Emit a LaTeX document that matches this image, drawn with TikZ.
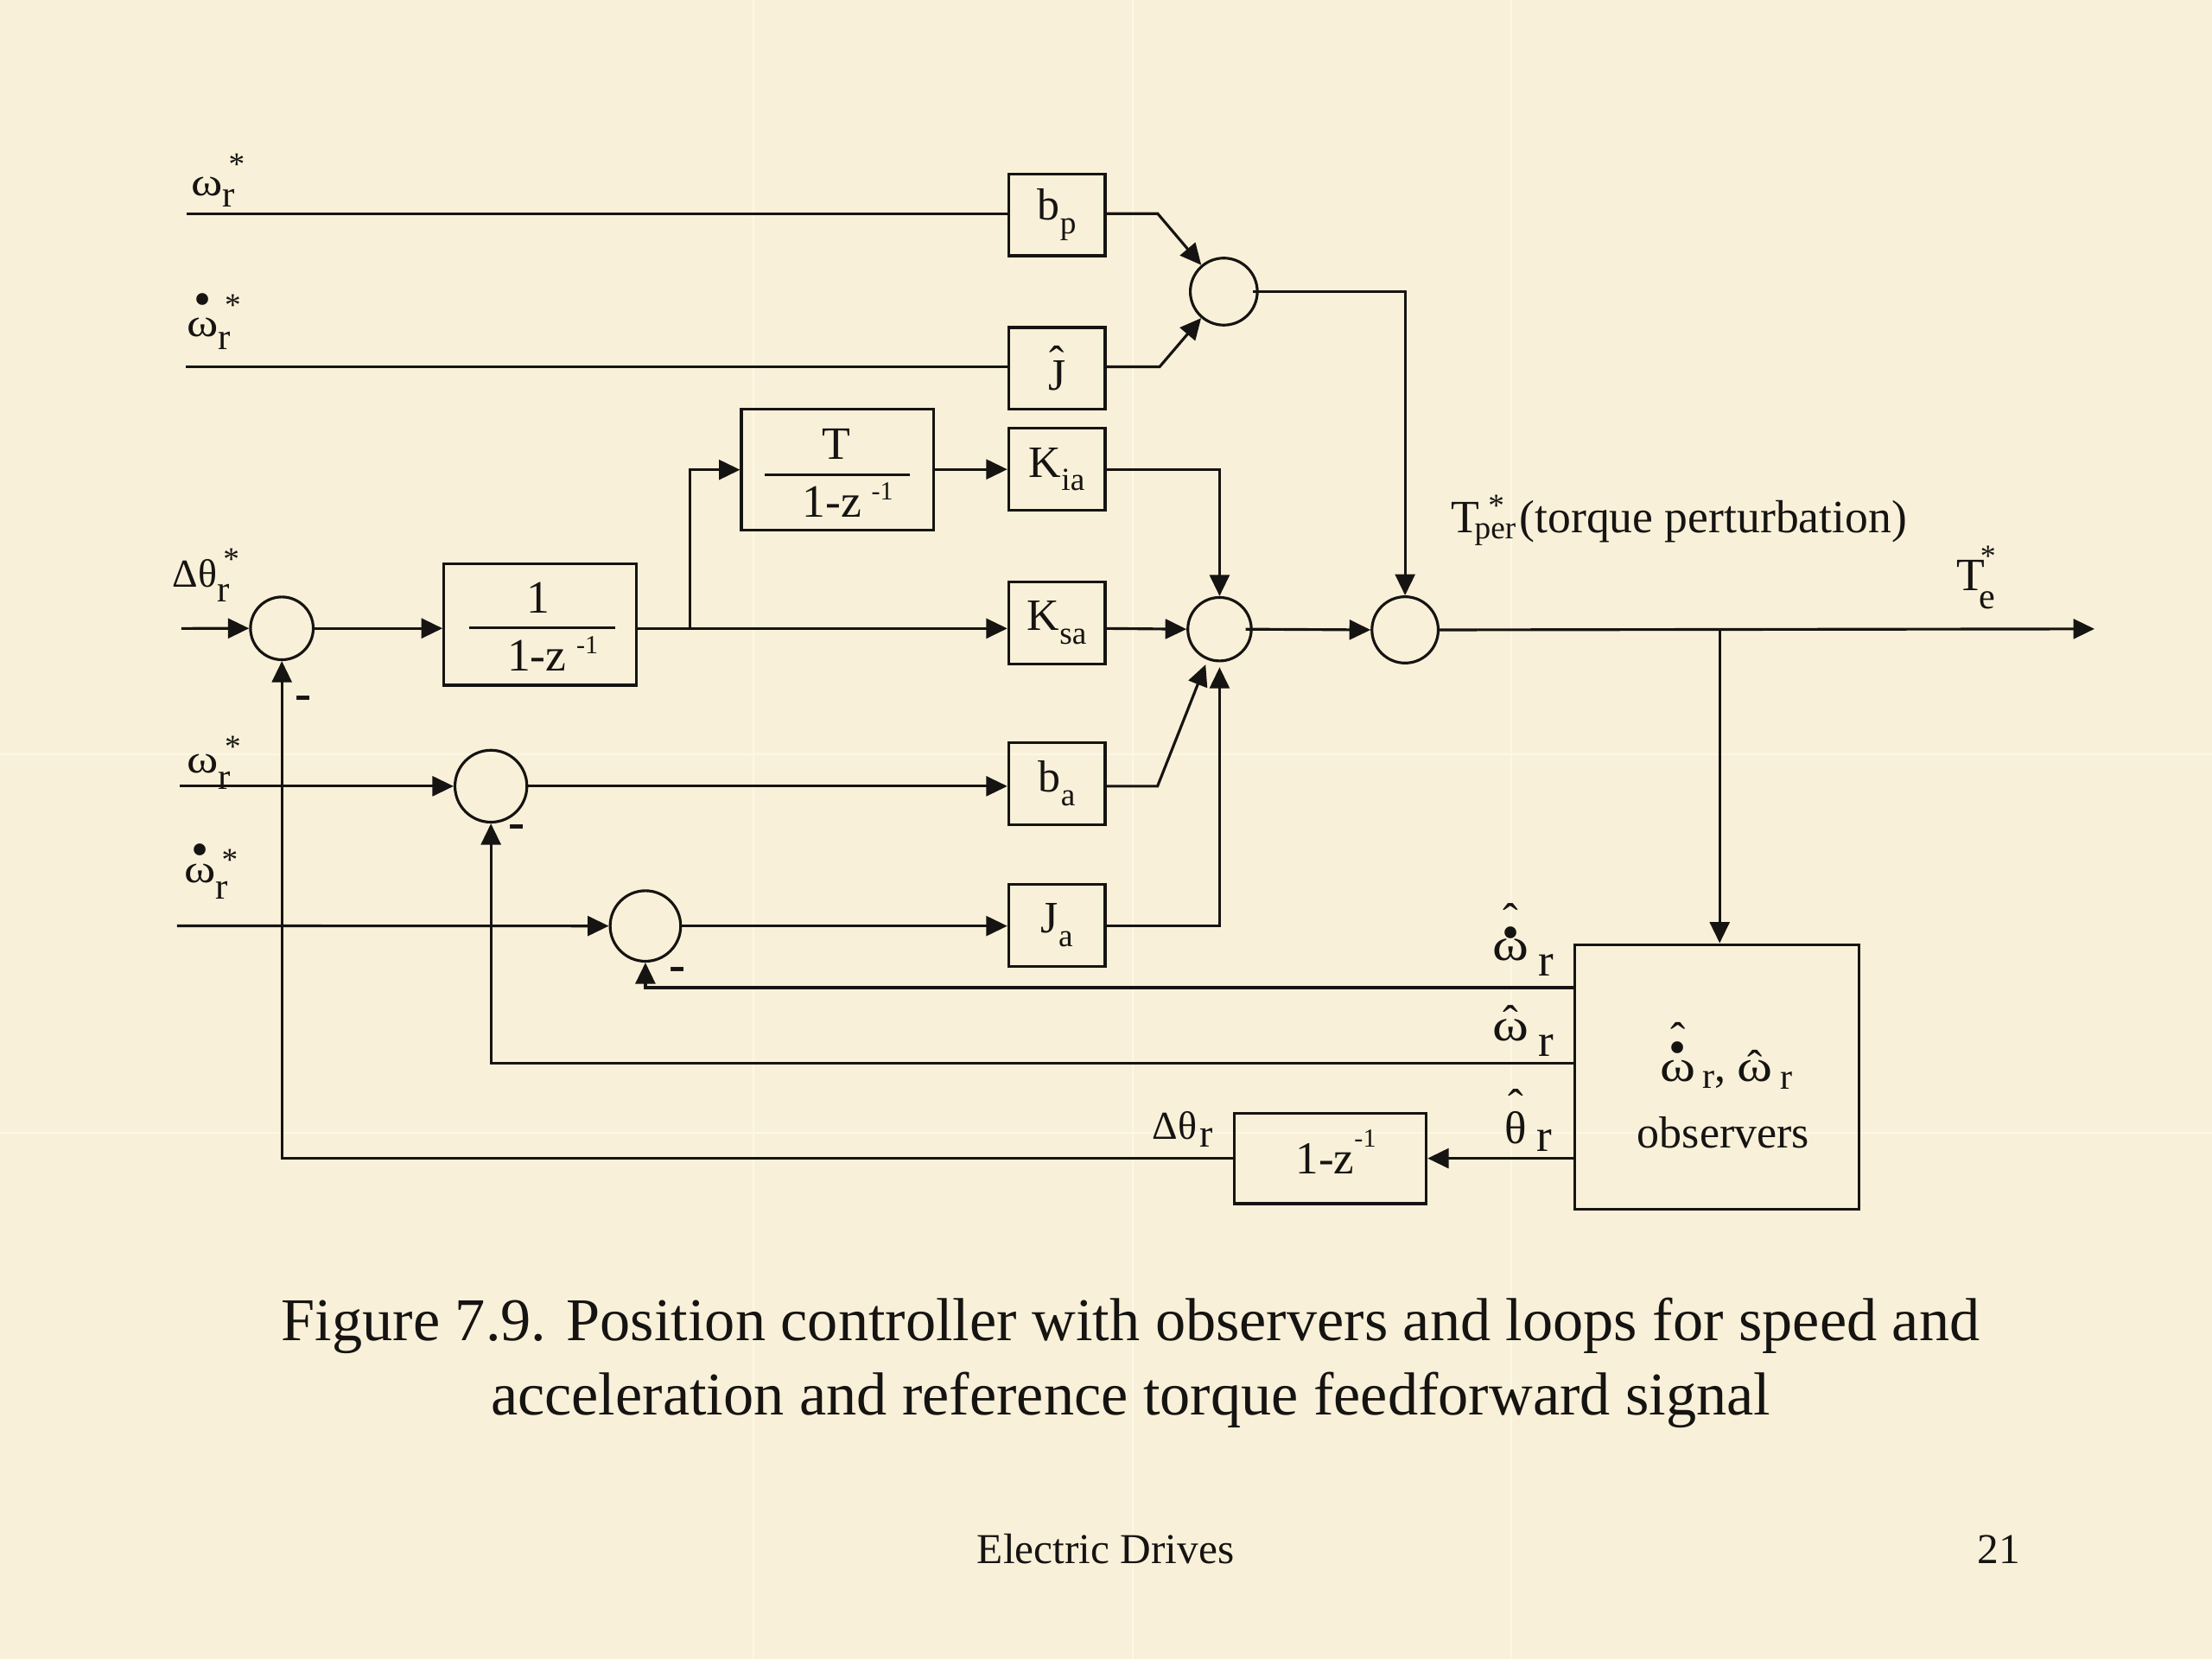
\documentclass[tikz,border=0pt]{standalone}
\usepackage{fontspec}
\usepackage{graphicx}
\setmainfont{Liberation Serif}
\usetikzlibrary{arrows.meta,calc}
\definecolor{paper}{RGB}{248,240,216}
\definecolor{seamc}{RGB}{252,247,230}
\definecolor{ink}{RGB}{22,20,18}
\newsavebox\mkbox
\newcommand\markabove[3]{\sbox\mkbox{#3}\leavevmode\rlap{\hbox to\wd\mkbox{\hss\raisebox{#2}{#1}\hss}}\usebox\mkbox}
\newcommand\bul{{\fontsize{20}{20}\selectfont •}}
\newcommand\om{\scalebox{1.2}[1]{ω}}
\newcommand\fL{\fontsize{16}{18}\selectfont}
\newcommand\fB{\fontsize{18.1}{20}\selectfont}
\newcommand\fR{\fontsize{18.5}{20}\selectfont}
\newcommand\fT{\fontsize{18.7}{21}\selectfont}
\newcommand\fF{\fontsize{18.7}{21}\selectfont}
\newcommand\fZ{\fontsize{18.5}{21}\selectfont}
% left labels: sub r and sup * stacked
\newcommand\Lss[4]{\rlap{\kern2.5pt\raisebox{#3}{\fontsize{13}{13}\selectfont #2}}\raisebox{-#4}{\fontsize{15}{15}\selectfont #1}}
\newcommand\Bsub[1]{\raisebox{-5.5pt}{\fontsize{13}{13}\selectfont #1}}
\begin{document}
\begin{tikzpicture}[x=0.02cm,y=-0.02cm, line width=1.1pt, color=ink,
  arr/.style={-{Triangle[length=0.3cm,width=0.28cm]}},
  gbox/.style={draw, minimum width=1.368cm, minimum height=1.16cm, inner sep=0pt, font=\fB},
  fbox/.style={draw, minimum width=2.73cm, minimum height=1.72cm, inner sep=0pt},
  sumc/.style={draw, circle, inner sep=0pt},
  lab/.style={inner sep=0pt, anchor=base west},
  ctr/.style={inner sep=0pt, anchor=base},
  minus/.style={inner sep=0pt, anchor=base, font=\fontsize{20}{20}\selectfont\bfseries},
  seam/.style={draw=seamc, line width=0.7pt}]
% background
\fill[paper] (0,0) rectangle (1568,1176);
\useasboundingbox (0,0) rectangle (1568,1176);
\foreach \sx in {534,803,1071} \draw[seam] (\sx,0) -- (\sx,1176);
\foreach \sy in {535,803} \draw[seam] (0,\sy) -- (1568,\sy);

% gain boxes
\node[gbox] (bp)  at (749.2,152.3) {b\Bsub{p}};
\node[gbox] (jh)  at (749.2,261.1) {\markabove{ˆ}{5.4pt}{J}};
\node[gbox] (kia) at (749.2,332.7) {K\Bsub{ia}};
\node[gbox] (ksa) at (749.2,441.6) {K\Bsub{sa}};
\node[gbox] (ba)  at (749.2,555.4) {b\Bsub{a}};
\node[gbox] (ja)  at (749.2,655.9) {J\Bsub{a}};

% transfer function boxes
\node[fbox] (tb) at (593.8,333) {};
\node[fbox] (ib) at (382.9,442.75) {};
\node[draw, minimum width=2.72cm, minimum height=1.284cm, inner sep=0pt] (zb) at (943,821.1) {};
\node[draw, minimum width=4.022cm, minimum height=3.756cm, inner sep=0pt] (obs) at (1217,763.4) {};

% fraction texts
\node[ctr, font=\fF] (tnum) at (593,325.6) {T};
\draw[line width=1pt] (542,336.8) -- (645,336.8);
\node[ctr, font=\fF] (tden) at (601,366.4) {1-z\kern4pt\raisebox{7pt}{\fontsize{10.5}{10.5}\selectfont -1}};
\node[ctr, font=\fF] (inum) at (381.7,434.8) {1};
\draw[line width=1pt] (332.3,445) -- (436,445);
\node[ctr, font=\fF] (iden) at (391.8,475.6) {1-z\kern4pt\raisebox{7pt}{\fontsize{10.5}{10.5}\selectfont -1}};
\node[ctr, font=\fZ] (ztxt) at (947,831.8) {1-z\raisebox{10.5pt}{\fontsize{10.5}{10.5}\selectfont -1}};

% summing junctions
\node[sumc, minimum size=0.95cm] (s1) at (867.5,206.7) {};
\node[sumc, minimum size=0.89cm] (sA) at (199.8,445.4) {};
\node[sumc, minimum size=1.02cm] (sB) at (348,557.3) {};
\node[sumc, minimum size=1.0cm]  (sC) at (457.5,656.4) {};
\node[sumc, minimum size=0.9cm]  (s2) at (864.5,446) {};
\node[sumc, minimum size=0.94cm] (s3) at (996,446.5) {};

% coordinates
\coordinate (in1) at (132,151.4);
\coordinate (in2) at (131.7,260);
\coordinate (in3) at (128.6,445.5);
\coordinate (in4) at (127.4,557.3);
\coordinate (in5) at (125.5,656.3);
\coordinate (k1) at (820.6,151.4);
\coordinate (k2) at (822,260);
\coordinate (k3) at (820.5,557.3);
\coordinate (j1) at (488.9,445.5);
\coordinate (j2) at (1219,445.8);
\coordinate (outp) at (1484.7,445.8);
\coordinate (yA) at (0,700.1);
\coordinate (yB) at (0,753.8);

% top feedforward rows
\draw (in1) -- (in1 -| bp.west);
\draw (in2) -- (in2 -| jh.west);
\draw[arr] (bp.east |- in1) -- (k1) -- (s1);
\draw[arr] (jh.east |- in2) -- (k2) -- (s1);
\draw[arr] ($(s1.east)+(-4,0)$) -| (s3.north);

% position row
\draw[arr] (in3) -- (sA.west);
\draw[arr] (sA.east) -- (sA.east -| ib.west);
\draw (ib.east |- in3) -- (j1);
\draw[arr] (j1) -- (j1 -| ksa.west);
\draw[arr] (j1) |- (tb.west);
\draw[arr] (tb.east |- kia.west) -- (kia.west);
\draw[arr] (kia.east) -| (s2.north);
\draw[arr] (ksa.east |- in3) -- (s2.west);
\draw[arr] ($(s2.east)+(-5,0)$) -- (s3.west);
\draw[arr] (s3.east) -- (outp);
\draw[arr] (j2) -- (j2 |- obs.north);

% speed row
\draw[arr] (in4) -- (sB.west);
\draw[arr] (sB.east) -- (sB.east -| ba.west);
\draw[arr, shorten >=2pt] (ba.east |- in4) -- (k3) -- (s2);

% acceleration row
\draw[arr] (in5) -- (sC.west);
\draw[arr] (sC.east) -- (sC.east -| ja.west);
\draw[arr, shorten >=2pt] (ja.east |- in5) -| (s2.south);

% feedback
\draw[arr] (obs.west |- yA) -| (sC.south);
\draw[arr] (obs.west |- yB) -| (sB.south);
\draw[arr] (obs.west |- zb.east) -- (zb.east);
\draw[arr] (zb.west) -| (sA.south);

% minus signs
\node[minus] (mA) at (215.2,503.2) {-};
\node[minus] (mB) at (366,594.2) {-};
\node[minus] (mC) at (480,695.2) {-};

% input labels
\node[lab, font=\fL] (l1) at (134.5,138.8) {\om\Lss{r}{*}{8.5pt}{4.6pt}};
\node[lab, font=\fL] (l2) at (131.7,238.8) {\markabove{\bul}{8.5pt}{\om}\Lss{r}{*}{8.4pt}{5.2pt}};
\node[lab, font=\fL] (l3) at (121.3,416.4) {Δθ\Lss{r}{*}{7pt}{5.8pt}};
\node[lab, font=\fL] (l4) at (131.7,548) {\om\Lss{r}{*}{6.5pt}{6.5pt}};
\node[lab, font=\fL] (l5) at (129.6,625.6) {\markabove{\bul}{6.5pt}{\om}\Lss{r}{*}{5pt}{6.5pt}};

% output labels
\node[lab, font=\fT] (tper) at (1027.8,377.4) {T\kern-2pt\rlap{\kern5.5pt\raisebox{6.5pt}{\fontsize{13}{13}\selectfont *}}\raisebox{-2.5pt}{\fontsize{13}{13}\selectfont per}\kern1.5pt(torque perturbation)};
\node[lab, font=\fT] (te) at (1386.2,418.4) {T\kern-2.5pt\rlap{\kern0.5pt\raisebox{9.5pt}{\fontsize{12.5}{12.5}\selectfont *}}\raisebox{-7.3pt}{\fontsize{14.7}{14.7}\selectfont e}};

% observer signal labels
\node[lab, font=\fR] (o1) at (1057,680.7) {\markabove{ˆ}{10pt}{\markabove{\bul}{4.6pt}{\om}}\kern3.8pt\raisebox{-6.4pt}{r}};
\node[lab, font=\fR] (o2) at (1057,737.9) {\markabove{ˆ}{1.6pt}{\om}\kern3.8pt\raisebox{-6.2pt}{r}};
\node[lab, font=\fR] (o3) at (1065.5,810.4) {\markabove{ˆ}{8.8pt}{θ}\kern4pt\raisebox{-3.4pt}{r}};
\node[lab, font=\fL] (o4) at (816,807.3) {Δθ\kern1pt\raisebox{-3.4pt}{r}};

% observer box text
\node[ctr, font=\fB] (obs1) at (1223.7,766.5) {\markabove{ˆ}{11pt}{\markabove{\bul}{7pt}{\om}}\kern3pt\raisebox{-2.8pt}{\fontsize{14.7}{14.7}\selectfont r},\ \markabove{ˆ}{0pt}{\om}\kern3pt\raisebox{-3pt}{\fontsize{14.7}{14.7}\selectfont r}};
\node[ctr, font=\fB] (obs2) at (1221.6,813.5) {observers};

% caption and footer
\node[ctr, font=\fontsize{24.5}{29}\selectfont] (cap1) at (801.5,950.2) {Figure 7.9. Position controller with observers and loops for speed and};
\node[ctr, font=\fontsize{24.5}{29}\selectfont] (cap2) at (801.5,1003) {acceleration and reference torque feedforward signal};
\node[ctr, font=\fontsize{17.2}{20}\selectfont] (foot) at (783.7,1108.4) {Electric Drives};
\node[inner sep=0pt, anchor=base east, font=\fontsize{17.2}{20}\selectfont] (pg) at (1433,1108.4) {21};
\end{tikzpicture}
\end{document}
